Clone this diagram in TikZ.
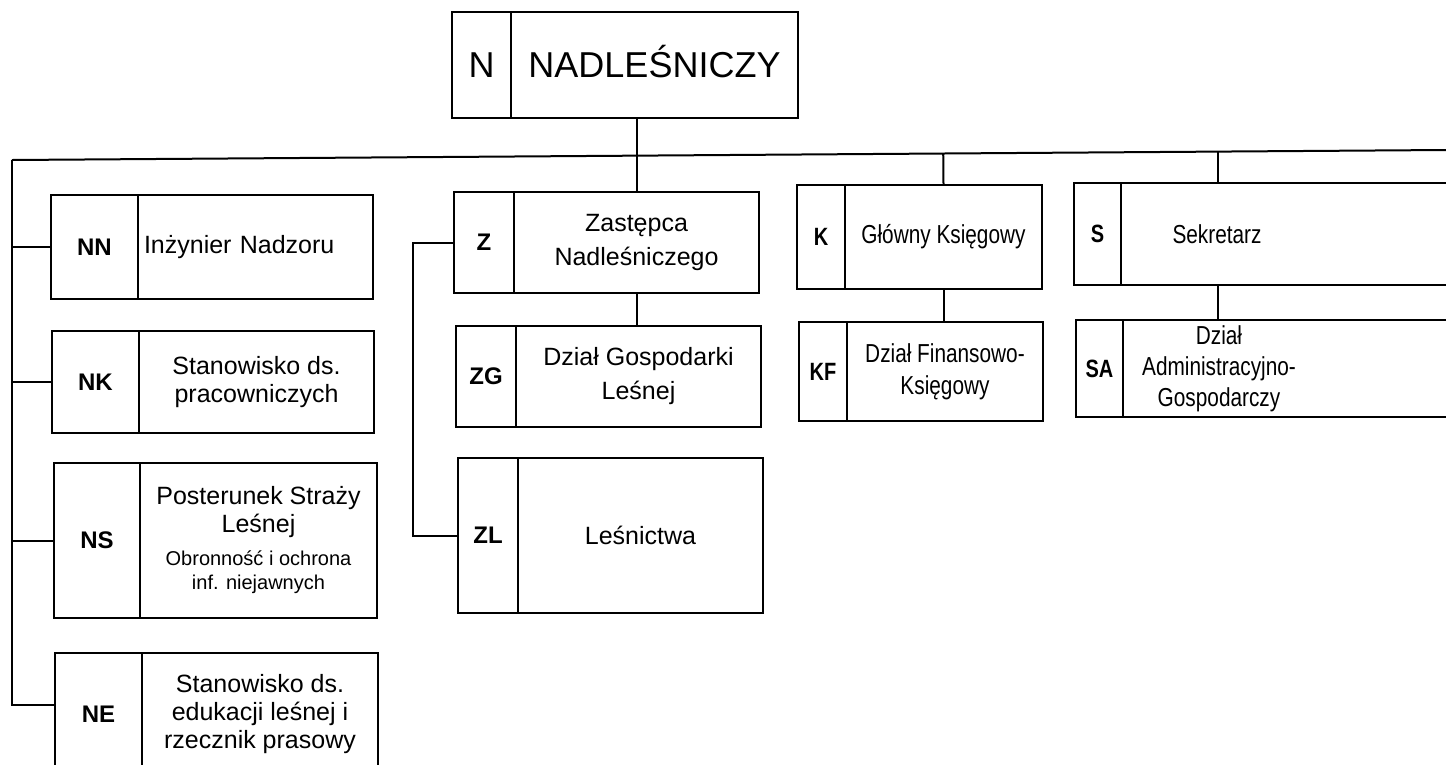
\documentclass[tikz,border=0pt]{standalone}
\usepackage{fontspec}
\usepackage{graphicx}
\setmainfont{Liberation Sans}
\usetikzlibrary{calc}
\tikzset{
  box/.style={draw, line width=2pt, inner sep=0pt, align=center},
  codeTop/.style={box, font=\fontsize{36}{40}\selectfont, text height=25.8pt, text depth=0pt},
  nameTop/.style={codeTop},
  codeL/.style={box, font=\bfseries\fontsize{24}{28}\selectfont},
  nameL/.style={box, font=\fontsize{25}{28}\selectfont},
  codeNN/.style={codeL},
  nameNN/.style={nameL, align=left, inner xsep=6pt, text width=223pt},
  codeM/.style={box, font=\bfseries\fontsize{24}{28}\selectfont},
  nameM/.style={box, font=\fontsize{25}{34}\selectfont},
  codeR/.style={box, font=\bfseries\fontsize{25}{30}\selectfont},
  nameR/.style={box, font=\fontsize{26}{32}\selectfont},
  codeS/.style={codeR},
  nameS/.style={nameR, align=left, inner xsep=0pt, text width=349pt},
  link/.style={line width=2pt},
}
\newcommand{\orgbox}[9]{%
  \node[code#9, minimum width={(#3-#2)*1pt}, minimum height={(#6-#5)*1pt}]
    (#1c) at ({(#2+#3)/2},{(#5+#6)/2}) {#7};
  \node[name#9, minimum width={(#4-#3)*1pt}, minimum height={(#6-#5)*1pt}]
    (#1) at ({(#3+#4)/2},{(#5+#6)/2}) {#8};}
\newcommand{\smalltxt}[1]{{\fontsize{20}{23}\selectfont #1}}
\newcommand{\nar}[1]{\scalebox{0.8}[1]{#1}}
\begin{document}
\begin{tikzpicture}[x=1pt,y=-1pt]
\useasboundingbox (0,0) rectangle (1446,764);
\orgbox{N}{452}{511}{798}{12}{118}{N}{NADLEŚNICZY}{Top}
\orgbox{NN}{51}{138}{373}{195}{299}{NN}{Inżynier Nadzoru}{NN}
\orgbox{NK}{52}{139}{374}{331}{433}{NK}{Stanowisko ds.\\pracowniczych}{L}
\orgbox{NS}{54}{140}{377}{463}{618}{NS}{Posterunek Straży\\Leśnej\\[5pt]\smalltxt{Obronność i ochrona}\\[-4pt]\smalltxt{inf. niejawnych}}{L}
\orgbox{NE}{55}{142}{378}{653}{775}{NE}{Stanowisko ds.\\edukacji leśnej i\\rzecznik prasowy}{L}
\orgbox{Z}{454}{514}{759}{192}{293}{Z}{Zastępca\\Nadleśniczego}{M}
\orgbox{ZG}{456}{516}{761}{326}{427}{ZG}{Dział Gospodarki\\Leśnej}{M}
\orgbox{ZL}{458}{518}{763}{458}{613}{ZL}{Leśnictwa}{M}
\orgbox{K}{797}{845}{1042}{185}{289}{\nar{K}}{\nar{Główny Księgowy}}{R}
\orgbox{KF}{799}{847}{1043}{322}{421}{\nar{KF}}{\nar{Dział Finansowo-}\\\nar{Księgowy}}{R}
\orgbox{S}{1074}{1121}{1470}{183}{285}{\nar{S}}{\begin{minipage}{192pt}\centering\nar{Sekretarz}\end{minipage}}{S}
\orgbox{SA}{1076}{1123}{1472}{320}{417}{\nar{SA}}{\begin{minipage}{192pt}\centering\baselineskip=31pt \nar{Dział}\\\nar{Administracyjno-}\\\nar{Gospodarczy}\end{minipage}}{S}
% bus
\coordinate (busL) at (12,160);
\coordinate (busR) at (1446,150);
\coordinate (neJ) at (12,705);
\coordinate (sX) at (1217,0);
\coordinate (sJ) at ($(busL)!(sX)!(busR)$);
\draw[link] (busL) -- (busR);
\draw[link] (busL) -- (neJ) -- (NEc.west |- neJ);
\draw[link] (busL |- NNc.west) -- (NNc.west);
\draw[link] (busL |- NKc.west) -- (NKc.west);
\draw[link] (busL |- NSc.west) -- (NSc.west);
% top
\draw[link] (Z.north |- N.south) -- (Z.north);
\draw[link] ($(busL)!(K.north)!(busR)$) -- (K.north);
\draw[link] (sJ) -- (sJ |- S.north);
% sub
\draw[link] (Z.south) -- (Z.south |- ZG.north);
\draw[link] (K.south) -- (K.south |- KF.north);
\draw[link] (sJ |- S.south) -- (sJ |- SA.north);
\draw[link] (Zc.west) -- ++(-40,0) |- (ZLc.west);
\end{tikzpicture}
\end{document}
